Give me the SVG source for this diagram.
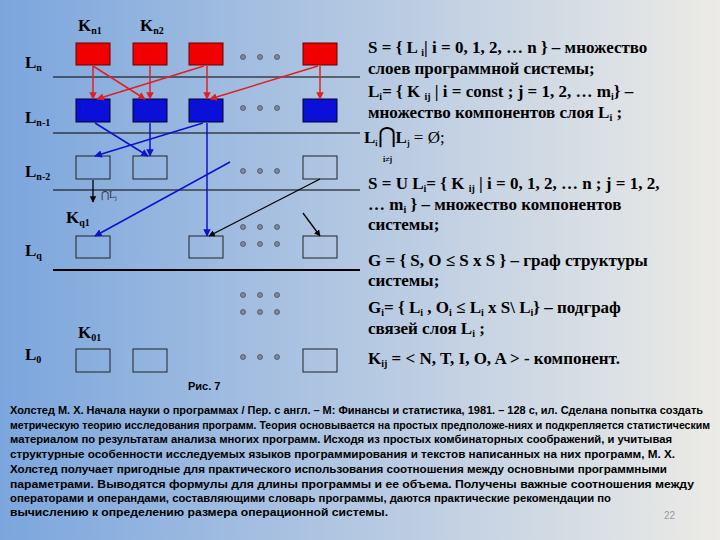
<svg xmlns="http://www.w3.org/2000/svg" width="720" height="540" viewBox="0 0 720 540">
<defs>
<linearGradient id="bg" x1="0" y1="0" x2="1" y2="0">
<stop offset="0" stop-color="#7ba6dd"/><stop offset="0.5" stop-color="#b4c8e2"/><stop offset="1" stop-color="#ecebe6"/>
</linearGradient>
<marker id="ar" viewBox="0 0 10 10" refX="9" refY="5" markerWidth="5" markerHeight="5" orient="auto"><path d="M0,0L10,5L0,10z" fill="#e02020"/></marker>
<marker id="ab" viewBox="0 0 10 10" refX="9" refY="5" markerWidth="5" markerHeight="5" orient="auto"><path d="M0,0L10,5L0,10z" fill="#1010d0"/></marker>
<marker id="ak" viewBox="0 0 10 10" refX="9" refY="5" markerWidth="5" markerHeight="5" orient="auto"><path d="M0,0L10,5L0,10z" fill="#000"/></marker>
</defs>
<style>
.r{fill:#f00000;stroke:#600;stroke-width:1}
.b{fill:#0a10d8;stroke:#002;stroke-width:1}
.o{fill:none;stroke:#222;stroke-width:1}
.d{fill:#7d8a9c;stroke:#445;stroke-width:0.7}
.lb{font-family:"Liberation Serif",serif;font-weight:bold;font-size:17px;fill:#000}
.sb{font-size:10px}
.t{font-family:"Liberation Serif",serif;font-weight:bold;font-size:17px;fill:#000}
.f{font-family:"Liberation Sans",sans-serif;font-weight:bold;font-size:10px;fill:#000}
.lr{stroke:#e02020;stroke-width:1.5;fill:none;marker-end:url(#ar)}
.lbl{stroke:#1010d0;stroke-width:1.5;fill:none;marker-end:url(#ab)}
.lk{stroke:#000;stroke-width:1.3;fill:none;marker-end:url(#ak)}
</style>
<rect width="720" height="540" fill="url(#bg)"/>
<g id="layers" stroke="#000">
<line x1="53" y1="77" x2="360" y2="77" stroke-width="1"/>
<line x1="53" y1="133" x2="360" y2="133" stroke-width="1"/>
<line x1="53" y1="190" x2="360" y2="190" stroke-width="1"/>
<line x1="53" y1="270" x2="360" y2="270" stroke-width="2"/>
</g>
<g id="labels">
<text class="lb" x="78" y="31">K<tspan class="sb" dy="3">n1</tspan></text>
<text class="lb" x="140" y="31">K<tspan class="sb" dy="3">n2</tspan></text>
<text class="lb" x="25" y="68">L<tspan class="sb" dy="3">n</tspan></text>
<text class="lb" x="25" y="123">L<tspan class="sb" dy="3">n-1</tspan></text>
<text class="lb" x="25" y="177">L<tspan class="sb" dy="3">n-2</tspan></text>
<text class="lb" x="25" y="256">L<tspan class="sb" dy="3">q</tspan></text>
<text class="lb" x="25" y="360">L<tspan class="sb" dy="3">0</tspan></text>
<text class="lb" x="66" y="223">K<tspan class="sb" dy="3">q1</tspan></text>
<text class="lb" x="78" y="338">K<tspan class="sb" dy="3">01</tspan></text>
<text x="101" y="198" font-family="Liberation Serif,serif" font-size="10" fill="#333">⋂L<tspan font-size="7" dy="2">j</tspan></text>
<text x="188" y="390" font-family="Liberation Sans,sans-serif" font-weight="bold" font-size="11">Рис. 7</text>
</g>
<g id="row-n"><rect class="r" x="76" y="43" width="34" height="22"/><rect class="r" x="133" y="43" width="34" height="22"/><rect class="r" x="189" y="43" width="34" height="22"/><rect class="r" x="303" y="43" width="34" height="22"/></g>
<g id="row-n1"><rect class="b" x="76" y="99" width="34" height="23"/><rect class="b" x="133" y="99" width="34" height="23"/><rect class="b" x="189" y="99" width="34" height="23"/><rect class="b" x="303" y="99" width="34" height="23"/></g>
<g id="row-n2"><rect class="o" x="76" y="156" width="34" height="23"/><rect class="o" x="133" y="156" width="34" height="23"/><rect class="o" x="303" y="156" width="34" height="23"/></g>
<g id="row-q"><rect class="o" x="76" y="236" width="34" height="22"/><rect class="o" x="189" y="236" width="34" height="22"/><rect class="o" x="303" y="236" width="34" height="22"/></g>
<g id="row-0"><rect class="o" x="76" y="349" width="34" height="23"/><rect class="o" x="133" y="349" width="34" height="23"/><rect class="o" x="303" y="349" width="34" height="23"/></g>
<g id="dots">
<g class="d"><circle cx="243" cy="57" r="2.5"/><circle cx="260" cy="57" r="2.5"/><circle cx="277" cy="57" r="2.5"/>
<circle cx="243" cy="108" r="2.5"/><circle cx="260" cy="108" r="2.5"/><circle cx="277" cy="108" r="2.5"/>
<circle cx="243" cy="171" r="2.5"/><circle cx="260" cy="171" r="2.5"/><circle cx="277" cy="171" r="2.5"/>
<circle cx="243" cy="227" r="2.5"/><circle cx="260" cy="227" r="2.5"/><circle cx="277" cy="227" r="2.5"/>
<circle cx="243" cy="244" r="2.5"/><circle cx="260" cy="244" r="2.5"/><circle cx="277" cy="244" r="2.5"/>
<circle cx="243" cy="295" r="2.5"/><circle cx="260" cy="295" r="2.5"/><circle cx="277" cy="295" r="2.5"/>
<circle cx="243" cy="312" r="2.5"/><circle cx="260" cy="312" r="2.5"/><circle cx="277" cy="312" r="2.5"/>
<circle cx="243" cy="357" r="2.5"/><circle cx="260" cy="357" r="2.5"/><circle cx="277" cy="357" r="2.5"/></g>
</g>
<g id="connectors">
<line class="lr" x1="93" y1="66" x2="93" y2="99"/>
<line class="lr" x1="93" y1="66" x2="145" y2="99"/>
<line class="lr" x1="150" y1="66" x2="150" y2="99"/>
<line class="lr" x1="204" y1="66" x2="97" y2="99"/>
<line class="lr" x1="207" y1="66" x2="207" y2="99"/>
<line class="lr" x1="318" y1="66" x2="210" y2="99"/>
<line class="lr" x1="320" y1="66" x2="320" y2="99"/>
<line class="lbl" x1="95" y1="123" x2="148" y2="156"/>
<line class="lbl" x1="150" y1="123" x2="150" y2="156"/>
<line class="lbl" x1="203" y1="123" x2="95" y2="156"/>
<line class="lbl" x1="207" y1="123" x2="207" y2="236"/>
<line class="lbl" x1="230" y1="162" x2="95" y2="236"/>
<line class="lk" x1="320" y1="179" x2="209" y2="236"/>
<line class="lk" x1="303" y1="213" x2="320" y2="236"/>
<line class="lk" x1="93" y1="180" x2="93" y2="202"/>
</g>
<g id="definitions">
<text class="t" x="368" y="53">S = { L <tspan font-size="10" dy="3">i</tspan><tspan dy="-3">| i = 0, 1, 2, … n } – множество</tspan></text>
<text class="t" x="368" y="74">слоев программной системы;</text>
<text class="t" x="368" y="97">L<tspan font-size="10" dy="3">i</tspan><tspan dy="-3">= { K </tspan><tspan font-size="10" dy="3">ij</tspan><tspan dy="-3"> | i = const ; j = 1, 2, … m</tspan><tspan font-size="10" dy="3">i</tspan><tspan dy="-3">} –</tspan></text>
<text class="t" x="368" y="118">множество компонентов слоя L<tspan font-size="10" dy="3">i</tspan><tspan dy="-3"> ;</tspan></text>
<text class="t" x="364" y="143">L<tspan font-size="8" dy="3">i</tspan><tspan dy="-3" font-size="22" font-weight="normal">⋂</tspan>L<tspan font-size="8" dy="3">j</tspan><tspan dy="-3" font-weight="normal"> =  Ø;</tspan></text>
<text x="383" y="162" font-family="Liberation Serif,serif" font-weight="bold" font-size="8">i≠j</text>
<text class="t" x="368" y="189">S = U L<tspan font-size="10" dy="3">i</tspan><tspan dy="-3">= { K </tspan><tspan font-size="10" dy="3">ij</tspan><tspan dy="-3"> | i = 0, 1, 2, … n ; j = 1, 2,</tspan></text>
<text class="t" x="368" y="210">… m<tspan font-size="10" dy="3">i</tspan><tspan dy="-3"> } – множество компонентов</tspan></text>
<text class="t" x="368" y="230">системы;</text>
<text class="t" x="368" y="266">G = { S, O ≤ S x S } – граф структуры</text>
<text class="t" x="368" y="286">системы;</text>
<text class="t" x="368" y="313">G<tspan font-size="10" dy="3">i</tspan><tspan dy="-3">= { L</tspan><tspan font-size="10" dy="3">i</tspan><tspan dy="-3"> , O</tspan><tspan font-size="10" dy="3">i</tspan><tspan dy="-3"> ≤ L</tspan><tspan font-size="10" dy="3">i</tspan><tspan dy="-3"> x S\ L</tspan><tspan font-size="10" dy="3">i</tspan><tspan dy="-3">} – подграф</tspan></text>
<text class="t" x="368" y="334">связей слоя L<tspan font-size="10" dy="3">i</tspan><tspan dy="-3"> ;</tspan></text>
<text class="t" x="368" y="364">K<tspan font-size="10" dy="3">ij</tspan><tspan dy="-3"> = &lt; N, T, I, O, A &gt; - компонент.</tspan></text>
</g>
<g id="note">
<text class="f" x="10" y="414" textLength="693" lengthAdjust="spacingAndGlyphs">Холстед М. Х. Начала науки о программах / Пер. с англ. – М: Финансы и статистика, 1981. – 128 с, ил. Сделана  попытка создать</text>
<text class="f" x="10" y="429" textLength="700" lengthAdjust="spacingAndGlyphs">метрическую теорию исследования программ. Теория основывается на простых предположе-ниях и подкрепляется статистическим</text>
<text class="f" x="10" y="443" textLength="662" lengthAdjust="spacingAndGlyphs">материалом по результатам анализа многих программ. Исходя из простых  комбинаторных соображений, и учитывая</text>
<text class="f" x="10" y="458" textLength="665" lengthAdjust="spacingAndGlyphs">структурные особенности исследуемых языков программирования  и текстов написанных на них программ, М. Х.</text>
<text class="f" x="10" y="473" textLength="657" lengthAdjust="spacingAndGlyphs">Холстед получает пригодные для практического использования соотношения между основными программными</text>
<text class="f" x="10" y="488" textLength="684" lengthAdjust="spacingAndGlyphs">параметрами. Выводятся формулы для длины программы  и ее объема.  Получены важные соотношения между</text>
<text class="f" x="10" y="502" textLength="601" lengthAdjust="spacingAndGlyphs">операторами и операндами, составляющими словарь программы,  даются практические рекомендации по</text>
<text class="f" x="10" y="516" textLength="378" lengthAdjust="spacingAndGlyphs">вычислению к определению размера операционной системы.</text>
<text x="664" y="519" font-family="Liberation Sans,sans-serif" font-size="10" fill="#999">22</text>
</g>
</svg>
